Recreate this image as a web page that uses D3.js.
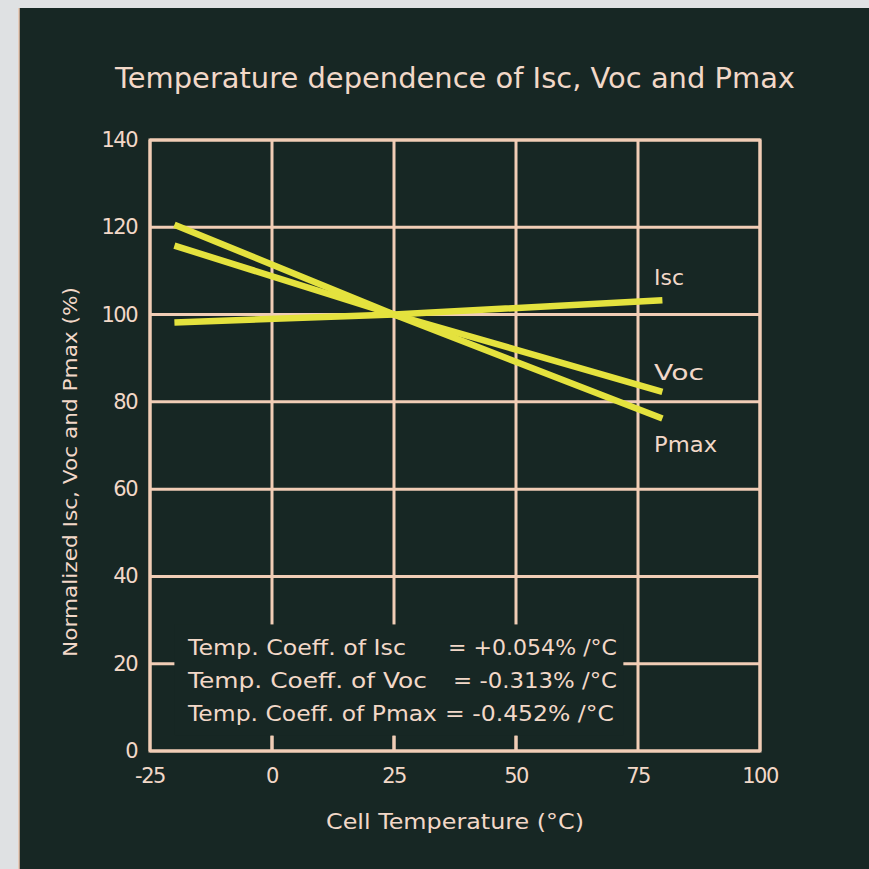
<!DOCTYPE html>
<html><head><meta charset="utf-8">
<script src="https://cdn.jsdelivr.net/npm/d3@7"></script>
<style>
html,body{margin:0;padding:0;background:#dfe1e3;}
svg{display:block;}
</style></head>
<body>
<svg id="chart" width="869" height="869"></svg>
<script>
// ---- data ----
const temps = [-20, 25, 80];
const iscValues = [98.2, 100, 103.3];
const vocValues = [115.8, 100, 82.3];
const pmaxValues = [120.6, 100, 76.2];
const seriesNames = ["Isc", "Voc", "Pmax"];
const xTicks = [-25, 0, 25, 50, 75, 100];
const yTicks = [0, 20, 40, 60, 80, 100, 120, 140];
const coeffLines = [
  ["Temp. Coeff. of Isc", "= +0.054% /°C"],
  ["Temp. Coeff. of Voc", "= -0.313% /°C"],
  ["Temp. Coeff. of Pmax", "= -0.452% /°C"]
];
const titleText = "Temperature dependence of Isc, Voc and Pmax";
const xLabel = "Cell Temperature (°C)";
const yLabel = "Normalized Isc, Voc and Pmax (%)";

const svg = d3.select("#chart");
const panelColor = "#172724";
const gridColor = "#f1cdb6";
const textColor = "#f2d8c8";
const lineColor = "#e4e23e";
const font = "'DejaVu Sans', sans-serif";

svg.append("rect").attr("x", 0).attr("y", 0).attr("width", 869).attr("height", 869).attr("fill", "#dfe1e3");
svg.append("rect").attr("x", 19).attr("y", 8).attr("width", 850).attr("height", 861).attr("fill", panelColor);
svg.append("line").attr("x1", 19).attr("x2", 19).attr("y1", 8).attr("y2", 869).attr("stroke", "#e8c4ae").attr("stroke-width", 1.5);

const x = d3.scaleLinear().domain([-25, 100]).range([150, 760]);
const y = d3.scaleLinear().domain([0, 140]).range([751, 140]);

// grid
const g = svg.append("g");
g.selectAll("line.v").data(xTicks).join("line")
  .attr("x1", d => x(d)).attr("x2", d => x(d)).attr("y1", y(140)).attr("y2", y(0))
  .attr("stroke", gridColor).attr("stroke-width", 3);
g.selectAll("line.h").data(yTicks).join("line")
  .attr("x1", x(-25)).attr("x2", x(100)).attr("y1", d => y(d)).attr("y2", d => y(d))
  .attr("stroke", gridColor).attr("stroke-width", 3);

// text box covering grid
const boxX0 = x(-20), boxX1 = x(72), boxY0 = y(29), boxY1 = y(3.5);
svg.append("rect").attr("x", boxX0).attr("y", boxY0).attr("width", boxX1 - boxX0).attr("height", boxY1 - boxY0).attr("fill", panelColor);

// frame
svg.append("rect").attr("x", x(-25)).attr("y", y(140)).attr("width", x(100) - x(-25)).attr("height", y(0) - y(140))
  .attr("fill", "none").attr("stroke", gridColor).attr("stroke-width", 3);

// minor tick stubs at bottom
svg.selectAll("line.tk").data([0, 25, 50]).join("line")
  .attr("x1", d => x(d)).attr("x2", d => x(d)).attr("y1", y(0)).attr("y2", y(3.5))
  .attr("stroke", gridColor).attr("stroke-width", 3);

// series lines
const lineGen = d3.line().x(d => x(d[0])).y(d => y(d[1]));
const allSeries = [iscValues, vocValues, pmaxValues];
svg.selectAll("path.s").data(allSeries).join("path")
  .attr("d", vals => lineGen(temps.map((t, i) => [t, vals[i]])))
  .attr("fill", "none").attr("stroke", lineColor).attr("stroke-width", 6.5);

// series labels
const labelPos = [[78.3, 106.8], [78.3, 85.0], [78.3, 68.6]];
const labelLen = [30, 50, 63];
svg.selectAll("text.sl").data(seriesNames).join("text")
  .attr("x", (d, i) => x(labelPos[i][0])).attr("y", (d, i) => y(labelPos[i][1]))
  .attr("fill", textColor)
  .attr("font-family", font).attr("font-size", 21)
  .attr("textLength", (d, i) => labelLen[i]).attr("lengthAdjust", "spacingAndGlyphs")
  .text(d => d);

// axis tick labels
svg.selectAll("text.xt").data(xTicks).join("text")
  .attr("x", d => x(d)).attr("y", 783).attr("text-anchor", "middle")
  .attr("fill", textColor).attr("font-family", font).attr("font-size", 21).attr("letter-spacing", -1.5)
  .text(d => d);
svg.selectAll("text.yt").data(yTicks).join("text")
  .attr("x", 137).attr("y", d => y(d) + 7).attr("text-anchor", "end")
  .attr("fill", textColor).attr("font-family", font).attr("font-size", 21).attr("letter-spacing", -1.5)
  .text(d => d);

// title
svg.append("text").attr("x", 455).attr("y", 88).attr("text-anchor", "middle")
  .attr("fill", textColor).attr("font-family", font).attr("font-size", 28)
  .attr("textLength", 680).attr("lengthAdjust", "spacingAndGlyphs")
  .text(titleText);

// axis titles
svg.append("text").attr("x", 455).attr("y", 829).attr("text-anchor", "middle")
  .attr("fill", textColor).attr("font-family", font).attr("font-size", 21)
  .attr("textLength", 258).attr("lengthAdjust", "spacingAndGlyphs")
  .text(xLabel);
svg.append("text").attr("transform", "translate(77,472) rotate(-90)").attr("text-anchor", "middle")
  .attr("fill", textColor).attr("font-family", font).attr("font-size", 20)
  .attr("textLength", 370).attr("lengthAdjust", "spacingAndGlyphs")
  .text(yLabel);

// coefficient block
const cg = svg.append("g");
const labLen = [218, 239, 249];
const valX = [448, 453, 445];
const valLen = [169, 164, 169];
coeffLines.forEach((row, i) => {
  const ty = 655 + i * 33;
  cg.append("text").attr("x", 188).attr("y", ty).attr("fill", textColor)
    .attr("font-family", font).attr("font-size", 22)
    .attr("textLength", labLen[i]).attr("lengthAdjust", "spacingAndGlyphs")
    .text(row[0]);
  cg.append("text").attr("x", valX[i]).attr("y", ty).attr("fill", textColor)
    .attr("font-family", font).attr("font-size", 22)
    .attr("textLength", valLen[i]).attr("lengthAdjust", "spacingAndGlyphs")
    .text(row[1]);
});
</script>
</body></html>
